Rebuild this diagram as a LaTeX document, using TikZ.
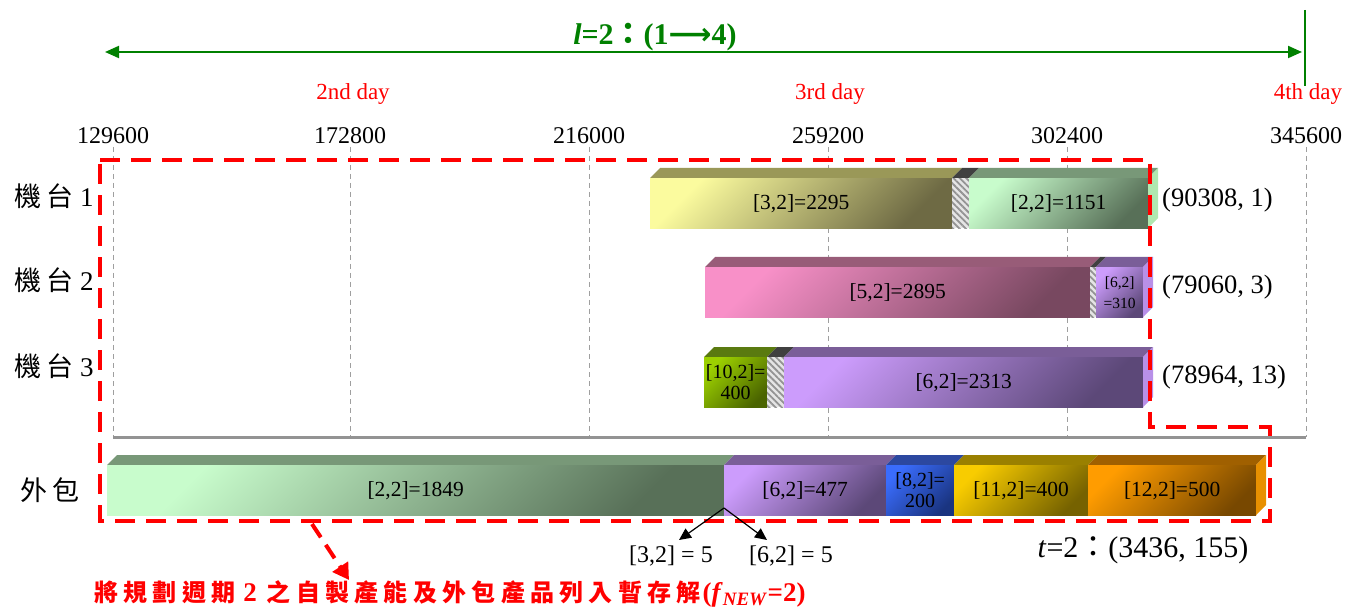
\documentclass[tikz,border=0pt]{standalone}
\usepackage{fontspec}
\setmainfont{Liberation Serif}
\newfontfamily\cjk{Noto Sans CJK TC}
\newfontfamily\cjkn[LetterSpace=22]{Noto Sans CJK TC}
\newfontfamily\dvs{DejaVu Sans}
\usetikzlibrary{arrows.meta,patterns.meta}
\definecolor{yl}{HTML}{FBFB9E}\definecolor{yd}{HTML}{6E6A44}\definecolor{yt}{HTML}{9A9858}
\definecolor{gl}{HTML}{C8FCCC}\definecolor{gd}{HTML}{587058}\definecolor{gt}{HTML}{789878}\definecolor{gs}{HTML}{B0E8B0}
\definecolor{pl}{HTML}{F890C8}\definecolor{pd}{HTML}{784860}\definecolor{pt}{HTML}{985C78}
\definecolor{ul}{HTML}{CC9CFC}\definecolor{ud}{HTML}{5C4878}\definecolor{ut}{HTML}{7A5E98}\definecolor{us}{HTML}{B890E8}
\definecolor{vl}{HTML}{9CD000}\definecolor{vd}{HTML}{4A6400}\definecolor{vt}{HTML}{5A7A10}
\definecolor{bl}{HTML}{3A6CFC}\definecolor{bd}{HTML}{1A3480}\definecolor{bt}{HTML}{2C48A0}
\definecolor{ol}{HTML}{F8CC00}\definecolor{od}{HTML}{766200}\definecolor{ot}{HTML}{9A8000}
\definecolor{rl}{HTML}{FF9C00}\definecolor{rd}{HTML}{784800}\definecolor{rt}{HTML}{A06000}\definecolor{rs}{HTML}{E89000}
\definecolor{dkgreen}{RGB}{0,128,0}
\newcommand{\gbar}[8]{%
  \fill[#7] (#2,#4) -- ++(10,-10) -- ({#3+10},{#4-10}) -- (#3,#4) -- cycle;
  \node[seg, minimum width={#3-#2}, top color=#5, bottom color=#6, shading angle=45] (#1) at (#2,#4) {#8};
}
\newcommand{\hatchbar}[4]{%
  \fill[black!75] (#2,#4) -- ++(10,-10) -- ({#3+10},{#4-10}) -- (#3,#4) -- cycle;
  \node[seg, minimum width={#3-#2}, fill=gray!20, postaction={pattern={Lines[angle=-45,distance=4.5pt,line width=1.8pt]}, pattern color=gray!85}] (#1) at (#2,#4) {};
}
\newcommand{\sidebar}[3]{%
  \fill[#3] (#1,#2) -- ++(10,-10) -- ++(0,50) -- ++(-10,10) -- cycle;
}
\begin{document}
\begin{tikzpicture}[x=1pt,y=-1pt,
  seg/.style={draw=none, anchor=north west, inner sep=0pt, minimum height=50pt, text=black, font=\fontsize{21.5}{21}\selectfont, align=center},
  gridl/.style={gray!75, line width=0.9pt, dash pattern=on 5pt off 4pt},
  ticklab/.style={font=\fontsize{24}{26}\selectfont, inner sep=0pt},
  daylab/.style={font=\fontsize{23}{26}\selectfont, text=red, inner sep=0pt},
  mlab/.style={font=\fontsize{27}{29}\selectfont, inner sep=0pt},
  rlab/.style={font=\fontsize{26.5}{28}\selectfont, inner sep=0pt, anchor=west},
  blab/.style={font=\fontsize{24}{26}\selectfont, inner sep=0pt},
  redframe/.style={red, line width=4.5pt, dash pattern=on 20pt off 11pt},
  garrow/.style={dkgreen, line width=2pt, {Triangle[length=14pt,width=12pt]}-{Triangle[length=14pt,width=12pt]}},
  barrow/.style={black, line width=1.2pt, -{Triangle[length=12pt,width=11pt]}},
  rarrow/.style={red, line width=4pt, dash pattern=on 16pt off 9pt, -{Triangle[length=16pt,width=18pt]}}
]
\useasboundingbox (0,0) rectangle (1352,612);
% title and range arrow
\node[font=\fontsize{30}{32}\selectfont\bfseries, text=dkgreen, inner sep=0pt] (ttl) at (655,37) {\textit{l}=2{\cjk ：}(1{\dvs\bfseries ⟶}4)};
\coordinate (ga) at (105,52);
\coordinate (gb) at (1302,52);
\draw[garrow] (ga) -- (gb);
\coordinate (gv1) at (1305,10);
\coordinate (gv2) at (1305,86);
\draw[dkgreen, line width=2pt] (gv1) -- (gv2);
% day labels
\node[daylab] (d2) at (353,94) {2nd day};
\node[daylab] (d3) at (830,94) {3rd day};
\node[daylab] (d4) at (1308,94) {4th day};
% ticks and grid
\foreach \x/\v/\n in {113/129600/t1,350/172800/t2,589/216000/t3,828/259200/t4,1067/302400/t5,1306/345600/t6}{
  \node[ticklab] (\n) at (\x,136) {\v};
  \coordinate (\n top) at (\x,147);
  \coordinate (\n bot) at (\x,437);
  \draw[gridl] (\n top) -- (\n bot);
}
\coordinate (sepa) at (113,437);
\coordinate (sepb) at (1306,437);
\draw[gray!85, line width=3pt] (sepa) -- (sepb);
% row labels
\node[mlab] (lab1) at (54,196) {{\cjk 機\hspace{5pt}台}\hspace{7pt}1};
\node[mlab] (lab2) at (54,280) {{\cjk 機\hspace{5pt}台}\hspace{7pt}2};
\node[mlab] (lab3) at (54,366) {{\cjk 機\hspace{5pt}台}\hspace{7pt}3};
\node[mlab] (lab4) at (50,490) {{\cjk 外\hspace{6pt}包}};
% machine 1
\gbar{m1a}{650}{952}{178}{yl}{yd}{yt}{[3,2]=2295}
\hatchbar{h1}{952}{969}{178}
\gbar{m1b}{969}{1148}{178}{gl}{gd}{gt}{[2,2]=1151}
\sidebar{1148}{178}{gs}
% machine 2
\gbar{m2a}{705}{1090}{267}{pl}{pd}{pt}{[5,2]=2895}
\hatchbar{h2}{1090}{1096}{267}
\gbar{m2b}{1096}{1143}{267}{ul}{ud}{ut}{\fontsize{15.5}{16}\selectfont [6,2]\\\fontsize{15.5}{16}\selectfont =310}
\sidebar{1143}{267}{us}
% machine 3
\gbar{m3a}{704}{767}{357}{vl}{vd}{vt}{\fontsize{20}{22}\selectfont[10,2]=\\\fontsize{20}{22}\selectfont 400}
\hatchbar{h3}{767}{784}{357}
\gbar{m3b}{784}{1143}{357}{ul}{ud}{ut}{[6,2]=2313}
\sidebar{1143}{357}{us}
% outsourcing
\gbar{o1}{107}{724}{465}{gl}{gd}{gt}{[2,2]=1849}
\gbar{o2}{724}{886}{465}{ul}{ud}{ut}{[6,2]=477}
\gbar{o3}{886}{954}{465}{bl}{bd}{bt}{\fontsize{20}{24}\selectfont[8,2]=\\\fontsize{20}{24}\selectfont 200}
\gbar{o4}{954}{1088}{465}{ol}{od}{ot}{[11,2]=400}
\gbar{o5}{1088}{1256}{465}{rl}{rd}{rt}{[12,2]=500}
\sidebar{1256}{465}{rs}
% right labels
\node[rlab] (r1) at (1162,200) {(90308, 1)};
\node[rlab] (r2) at (1162,287) {(79060, 3)};
\node[rlab] (r3) at (1162,377) {(78964, 13)};
% red frame
\draw[redframe] (100,160) -- (1150,160) -- (1150,427) -- (1270,427) -- (1270,521) -- (100,521) -- cycle;
% split arrows
\coordinate (jn) at (724,508);
\node[blab] (l32) at (671,556) {[3,2] = 5};
\node[blab] (l62) at (791,556) {[6,2] = 5};
\coordinate (tipa) at (679,540);
\coordinate (tipb) at (767,540);
\draw[barrow] (jn) -- (tipa);
\draw[barrow] (jn) -- (tipb);
% period label
\node[font=\fontsize{30}{32}\selectfont, inner sep=0pt] (tlab) at (1143,550) {\textit{t}=2{\cjk ：}(3436, 155)};
% note
\node[font=\fontsize{27}{30}\selectfont\bfseries, text=red, inner sep=0pt, anchor=west] (note) at (94,594) {{\cjkn\fontsize{24}{26}\selectfont 將規劃週期}\hspace{8pt}2\hspace{10pt}{\cjkn\fontsize{24}{26}\selectfont 之自製產能及外包產品列入暫存解}\hspace{2pt}(\textit{f}\textsubscript{\textit{NEW}}=2)};
\coordinate (fa) at (312,524);
\coordinate (fb) at (349,580);
\draw[rarrow] (fa) -- (fb);
\end{tikzpicture}
\end{document}
